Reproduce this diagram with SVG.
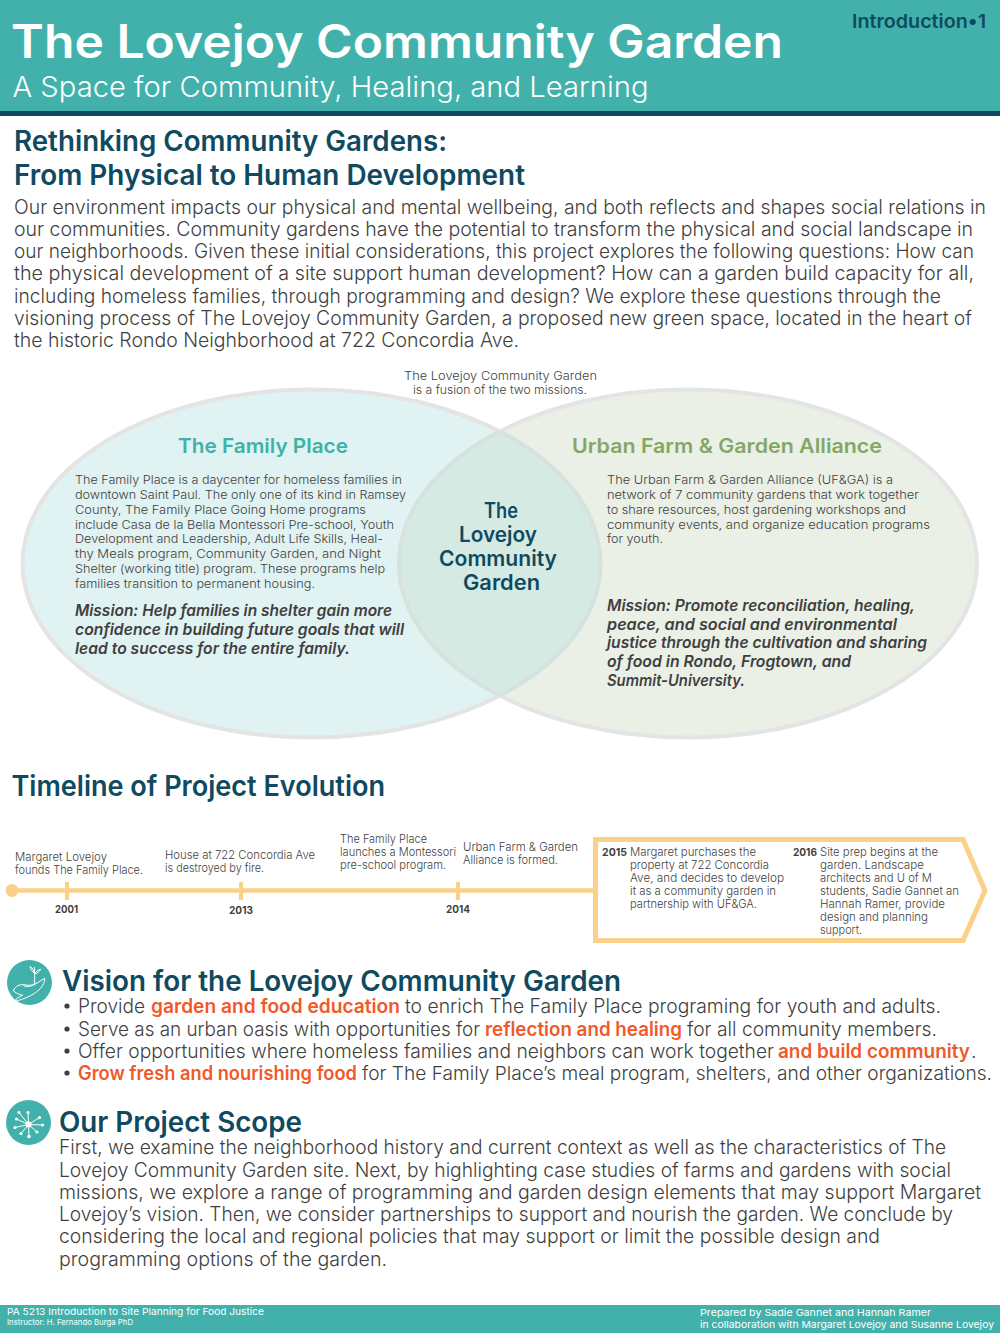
<svg xmlns="http://www.w3.org/2000/svg" width="1000" height="1334" viewBox="0 0 1000 1334">
<style>
text{font-family:"Inter","Lato","Liberation Sans",sans-serif;fill:#3f3f41;font-weight:300;}
.n{fill:#0f4a60;font-weight:600;}
.h{font-size:28px;}
.w{fill:#fff;}
.body{font-size:19.5px;}
.sm{font-size:12px;}
.mis{font-size:16px;font-weight:600;font-style:italic;}
.ctr{font-size:21px;}
.yr{font-size:10.5px;font-weight:700;}
.o{fill:#f1592a;font-weight:600;}
.tl{fill:none;stroke:#fbd088;}
.ic{fill:#42b1ab;}
.il{fill:none;stroke:#fff;stroke-width:3;stroke-linecap:round;stroke-linejoin:round;}
.vs{fill:none;stroke:#e4e4e4;stroke-width:4;}
.vi{fill:none;stroke:#d6e2de;stroke-width:4;}
</style>
<defs>
<clipPath id="lc"><ellipse cx="311.5" cy="563.5" rx="289" ry="174"/></clipPath>
<clipPath id="rc"><ellipse cx="688" cy="563.5" rx="289" ry="174"/></clipPath>
</defs>

<g id="header">
<rect x="0" y="0" width="1000" height="111" fill="#42b1ab"/>
<rect x="0" y="111" width="1000" height="5" fill="#0f4a60"/>
<text class="w" x="11" y="58" font-size="46" style="font-weight:600" textLength="772" lengthAdjust="spacingAndGlyphs">The Lovejoy Community Garden</text>
<text class="w" x="12.5" y="97" font-size="28" textLength="636" lengthAdjust="spacingAndGlyphs">A Space for Community, Healing, and Learning</text>
<text class="n" x="852" y="28" font-size="19" textLength="134" lengthAdjust="spacingAndGlyphs">Introduction•1</text>
</g>

<g id="intro">
<text class="n h" x="14" y="151" textLength="433" lengthAdjust="spacingAndGlyphs">Rethinking Community Gardens:</text>
<text class="n h" x="14" y="185" textLength="511" lengthAdjust="spacingAndGlyphs">From Physical to Human Development</text>
<text class="body" x="14" y="214" textLength="972" lengthAdjust="spacingAndGlyphs">Our environment impacts our physical and mental wellbeing, and both reflects and shapes social relations in</text>
<text class="body" x="14" y="236" textLength="959" lengthAdjust="spacingAndGlyphs">our communities. Community gardens have the potential to transform the physical and social landscape in</text>
<text class="body" x="14" y="258" textLength="960" lengthAdjust="spacingAndGlyphs">our neighborhoods. Given these initial considerations, this project explores the following questions: How can</text>
<text class="body" x="14" y="280" textLength="960" lengthAdjust="spacingAndGlyphs">the physical development of a site support human development? How can a garden build capacity for all,</text>
<text class="body" x="14" y="303" textLength="927" lengthAdjust="spacingAndGlyphs">including homeless families, through programming and design? We explore these questions through the</text>
<text class="body" x="14" y="325" textLength="958" lengthAdjust="spacingAndGlyphs">visioning process of The Lovejoy Community Garden, a proposed new green space, located in the heart of</text>
<text class="body" x="14" y="347" textLength="505" lengthAdjust="spacingAndGlyphs">the historic Rondo Neighborhood at 722 Concordia Ave.</text>
</g>

<g id="venn-shapes">
<ellipse cx="311.5" cy="563.5" rx="289" ry="174" fill="#e0f2f1"/>
<ellipse cx="688" cy="563.5" rx="289" ry="174" fill="#eaf0e6"/>
<ellipse cx="688" cy="563.5" rx="289" ry="174" fill="#d6eae4" clip-path="url(#lc)"/>
<ellipse class="vs" cx="311.5" cy="563.5" rx="289" ry="174"/>
<ellipse class="vs" cx="688" cy="563.5" rx="289" ry="174"/>
<ellipse class="vi" cx="688" cy="563.5" rx="289" ry="174" clip-path="url(#lc)"/>
<ellipse class="vi" cx="311.5" cy="563.5" rx="289" ry="174" clip-path="url(#rc)"/>
</g>

<g id="venn-note">
<text class="sm" x="404" y="380" textLength="193" lengthAdjust="spacingAndGlyphs">The Lovejoy Community Garden</text>
<text class="sm" x="413" y="394" textLength="174" lengthAdjust="spacingAndGlyphs">is a fusion of the two missions.</text>
</g>

<g id="family-place">
<text x="178" y="453" font-size="20" style="fill:#3fb1a9;font-weight:600" textLength="170" lengthAdjust="spacingAndGlyphs">The Family Place</text>
<text class="sm" x="75" y="484" textLength="327" lengthAdjust="spacingAndGlyphs">The Family Place is a daycenter for homeless families in</text>
<text class="sm" x="75" y="499" textLength="331" lengthAdjust="spacingAndGlyphs">downtown Saint Paul. The only one of its kind in Ramsey</text>
<text class="sm" x="75" y="514" textLength="291" lengthAdjust="spacingAndGlyphs">County, The Family Place Going Home programs</text>
<text class="sm" x="75" y="529" textLength="319" lengthAdjust="spacingAndGlyphs">include Casa de la Bella Montessori Pre-school, Youth</text>
<text class="sm" x="75" y="543" textLength="308" lengthAdjust="spacingAndGlyphs">Development and Leadership, Adult Life Skills, Heal-</text>
<text class="sm" x="75" y="558" textLength="306" lengthAdjust="spacingAndGlyphs">thy Meals program, Community Garden, and Night</text>
<text class="sm" x="75" y="573" textLength="310" lengthAdjust="spacingAndGlyphs">Shelter (working title) program. These programs help</text>
<text class="sm" x="75" y="588" textLength="240" lengthAdjust="spacingAndGlyphs">families transition to permanent housing.</text>
<text class="mis" x="75" y="616" textLength="317" lengthAdjust="spacingAndGlyphs">Mission: Help families in shelter gain more</text>
<text class="mis" x="75" y="635" textLength="329" lengthAdjust="spacingAndGlyphs">confidence in building future goals that will</text>
<text class="mis" x="75" y="654" textLength="275" lengthAdjust="spacingAndGlyphs">lead to success for the entire family.</text>
</g>

<g id="urban-farm">
<text x="572" y="453" font-size="20" style="fill:#85a765;font-weight:600" textLength="310" lengthAdjust="spacingAndGlyphs">Urban Farm &amp; Garden Alliance</text>
<text class="sm" x="607" y="484" textLength="286" lengthAdjust="spacingAndGlyphs">The Urban Farm &amp; Garden Alliance (UF&amp;GA) is a</text>
<text class="sm" x="607" y="499" textLength="312" lengthAdjust="spacingAndGlyphs">network of 7 community gardens that work together</text>
<text class="sm" x="607" y="514" textLength="299" lengthAdjust="spacingAndGlyphs">to share resources, host gardening workshops and</text>
<text class="sm" x="607" y="529" textLength="323" lengthAdjust="spacingAndGlyphs">community events, and organize education programs</text>
<text class="sm" x="607" y="543" textLength="56" lengthAdjust="spacingAndGlyphs">for youth.</text>
<text class="mis" x="607" y="611" textLength="308" lengthAdjust="spacingAndGlyphs">Mission: Promote reconciliation, healing,</text>
<text class="mis" x="607" y="630" textLength="290" lengthAdjust="spacingAndGlyphs">peace, and social and environmental</text>
<text class="mis" x="607" y="648" textLength="320" lengthAdjust="spacingAndGlyphs">justice through the cultivation and sharing</text>
<text class="mis" x="607" y="667" textLength="244" lengthAdjust="spacingAndGlyphs">of food in Rondo, Frogtown, and</text>
<text class="mis" x="607" y="686" textLength="138" lengthAdjust="spacingAndGlyphs">Summit-University.</text>
</g>

<g id="fusion">
<text class="n ctr" x="484" y="518" textLength="34" lengthAdjust="spacingAndGlyphs">The</text>
<text class="n ctr" x="459" y="542" textLength="78" lengthAdjust="spacingAndGlyphs">Lovejoy</text>
<text class="n ctr" x="439" y="566" textLength="118" lengthAdjust="spacingAndGlyphs">Community</text>
<text class="n ctr" x="463" y="590" textLength="77" lengthAdjust="spacingAndGlyphs">Garden</text>
</g>

<g id="timeline">
<text class="n h" x="11.5" y="796" textLength="373.5" lengthAdjust="spacingAndGlyphs">Timeline of Project Evolution</text>
<circle cx="12" cy="890.5" r="6.5" fill="#fbd088"/>
<path class="tl" stroke-width="4.5" d="M12 890.5H594"/>
<path class="tl" stroke-width="4" d="M67 882V900M241 882V900M458 882V900"/>
<path class="tl" stroke-width="5" d="M595.5 839.5H963L985 890.5L963 940.5H595.5Z"/>
<text class="yr" x="55" y="913" textLength="23" lengthAdjust="spacingAndGlyphs">2001</text>
<text class="yr" x="229" y="914" textLength="24" lengthAdjust="spacingAndGlyphs">2013</text>
<text class="yr" x="446" y="913" textLength="24" lengthAdjust="spacingAndGlyphs">2014</text>
<text class="sm" x="15" y="861" textLength="92" lengthAdjust="spacingAndGlyphs">Margaret Lovejoy</text>
<text class="sm" x="15" y="874" textLength="128" lengthAdjust="spacingAndGlyphs">founds The Family Place.</text>
<text class="sm" x="165" y="859" textLength="150" lengthAdjust="spacingAndGlyphs">House at 722 Concordia Ave</text>
<text class="sm" x="165" y="872" textLength="99" lengthAdjust="spacingAndGlyphs">is destroyed by fire.</text>
<text class="sm" x="340" y="843" textLength="87" lengthAdjust="spacingAndGlyphs">The Family Place</text>
<text class="sm" x="340" y="856" textLength="116" lengthAdjust="spacingAndGlyphs">launches a Montessori</text>
<text class="sm" x="340" y="869" textLength="106" lengthAdjust="spacingAndGlyphs">pre-school program.</text>
<text class="sm" x="463" y="851" textLength="115" lengthAdjust="spacingAndGlyphs">Urban Farm &amp; Garden</text>
<text class="sm" x="463" y="864" textLength="95" lengthAdjust="spacingAndGlyphs">Alliance is formed.</text>
<text class="yr" x="602" y="856" textLength="25" lengthAdjust="spacingAndGlyphs">2015</text>
<text class="sm" x="630" y="856" textLength="126" lengthAdjust="spacingAndGlyphs">Margaret purchases the</text>
<text class="sm" x="630" y="869" textLength="139" lengthAdjust="spacingAndGlyphs">property at 722 Concordia</text>
<text class="sm" x="630" y="882" textLength="154" lengthAdjust="spacingAndGlyphs">Ave, and decides to develop</text>
<text class="sm" x="630" y="895" textLength="146" lengthAdjust="spacingAndGlyphs">it as a community garden in</text>
<text class="sm" x="630" y="908" textLength="127" lengthAdjust="spacingAndGlyphs">partnership with UF&amp;GA.</text>
<text class="yr" x="793" y="856" textLength="24" lengthAdjust="spacingAndGlyphs">2016</text>
<text class="sm" x="820" y="856" textLength="118" lengthAdjust="spacingAndGlyphs">Site prep begins at the</text>
<text class="sm" x="820" y="869" textLength="104" lengthAdjust="spacingAndGlyphs">garden. Landscape</text>
<text class="sm" x="820" y="882" textLength="112" lengthAdjust="spacingAndGlyphs">architects and U of M</text>
<text class="sm" x="820" y="895" textLength="139" lengthAdjust="spacingAndGlyphs">students, Sadie Gannet an</text>
<text class="sm" x="820" y="908" textLength="125" lengthAdjust="spacingAndGlyphs">Hannah Ramer, provide</text>
<text class="sm" x="820" y="921" textLength="108" lengthAdjust="spacingAndGlyphs">design and planning</text>
<text class="sm" x="820" y="934" textLength="42" lengthAdjust="spacingAndGlyphs">support.</text>
</g>

<g id="vision-icon">
<circle class="ic" cx="29.5" cy="982.5" r="22.5"/>
<g class="il" transform="scale(.3333) translate(0 2880)">
<path d="M40 92C46 78 60 72 75 75C85 77 95 76 103 74C112 70 122 62 134 55C135 68 126 84 112 94C96 106 76 117 42 125C48 116 60 110 68 106C56 104 46 99 40 92Z"/>
<path d="M72 78C84 82 96 80 108 70M103 72C105 55 104 40 103 22M103 40C96 34 92 28 90 20C97 24 102 30 103 40ZM104 42C108 34 113 30 122 28C118 36 112 40 104 42Z"/>
</g>
</g>

<g id="vision">
<text class="n h" x="62" y="991" textLength="559" lengthAdjust="spacingAndGlyphs">Vision for the Lovejoy Community Garden</text>
<circle cx="67" cy="1006" r="2.6" fill="#3f3f41"/><circle cx="67" cy="1029" r="2.6" fill="#3f3f41"/><circle cx="67" cy="1051" r="2.6" fill="#3f3f41"/><circle cx="67" cy="1073" r="2.6" fill="#3f3f41"/>
<text class="body" x="78" y="1013" textLength="67" lengthAdjust="spacingAndGlyphs">Provide</text>
<text class="body o" x="151" y="1013" textLength="249" lengthAdjust="spacingAndGlyphs">garden and food education</text>
<text class="body" x="405" y="1013" textLength="536" lengthAdjust="spacingAndGlyphs">to enrich The Family Place programing for youth and adults.</text>
<text class="body" x="78" y="1036" textLength="402" lengthAdjust="spacingAndGlyphs">Serve as an urban oasis with opportunities for</text>
<text class="body o" x="485" y="1036" textLength="197" lengthAdjust="spacingAndGlyphs">reflection and healing</text>
<text class="body" x="687" y="1036" textLength="250" lengthAdjust="spacingAndGlyphs">for all community members.</text>
<text class="body" x="78" y="1058" textLength="696" lengthAdjust="spacingAndGlyphs">Offer opportunities where homeless families and neighbors can work together</text>
<text class="body o" x="778" y="1058" textLength="192" lengthAdjust="spacingAndGlyphs">and build community</text>
<text class="body" x="971" y="1058">.</text>
<text class="body o" x="78" y="1080" textLength="279" lengthAdjust="spacingAndGlyphs">Grow fresh and nourishing food</text>
<text class="body" x="362" y="1080" font-size="18.5" style="font-size:18.5px" textLength="630" lengthAdjust="spacingAndGlyphs">for The Family Place’s meal program, shelters, and other organizations.</text>
</g>

<g id="scope-icon">
<circle class="ic" cx="28.5" cy="1122.5" r="22.5"/>
<g stroke="#fff" stroke-width="1" fill="#fff">
<path d="M28.5 1124.5L16.5 1119M28.5 1124.5L19 1112.5M28.5 1124.5L28 1112.5M28.5 1124.5L39.5 1117.5M28.5 1124.5L42.5 1125M28.5 1124.5L37 1132M28.5 1124.5L29 1136.5M28.5 1124.5L21 1133.5M28.5 1124.5L15 1127.5"/>
<circle cx="28.5" cy="1124.5" r="3" stroke="none"/>
<circle cx="16.5" cy="1119" r="1.6" stroke="none"/><circle cx="19" cy="1112.5" r="1.6" stroke="none"/><circle cx="28" cy="1112.5" r="1.6" stroke="none"/><circle cx="39.5" cy="1117.5" r="1.6" stroke="none"/><circle cx="42.5" cy="1125" r="1.6" stroke="none"/><circle cx="37" cy="1132" r="1.6" stroke="none"/><circle cx="29" cy="1136.5" r="1.8" stroke="none"/><circle cx="21" cy="1133.5" r="1.6" stroke="none"/><circle cx="15" cy="1127.5" r="1.6" stroke="none"/>
</g>
</g>

<g id="scope">
<text class="n h" x="59" y="1132" textLength="243" lengthAdjust="spacingAndGlyphs">Our Project Scope</text>
<text class="body" x="59" y="1154" textLength="887" lengthAdjust="spacingAndGlyphs">First, we examine the neighborhood history and current context as well as the characteristics of The</text>
<text class="body" x="59" y="1177" textLength="892" lengthAdjust="spacingAndGlyphs">Lovejoy Community Garden site. Next, by highlighting case studies of farms and gardens with social</text>
<text class="body" x="59" y="1199" textLength="922" lengthAdjust="spacingAndGlyphs">missions, we explore a range of programming and garden design elements that may support Margaret</text>
<text class="body" x="59" y="1221" textLength="894" lengthAdjust="spacingAndGlyphs">Lovejoy’s vision. Then, we consider partnerships to support and nourish the garden. We conclude by</text>
<text class="body" x="59" y="1243" textLength="821" lengthAdjust="spacingAndGlyphs">considering the local and regional policies that may support or limit the possible design and</text>
<text class="body" x="59" y="1266" textLength="328" lengthAdjust="spacingAndGlyphs">programming options of the garden.</text>
</g>

<g id="footer">
<rect x="0" y="1305" width="1000" height="28" fill="#42b1ab"/>
<text class="w" x="7" y="1315" font-size="9.5" style="font-weight:400" textLength="257" lengthAdjust="spacingAndGlyphs">PA 5213 Introduction to Site Planning for Food Justice</text>
<text class="w" x="7" y="1325" font-size="8" style="font-weight:400" textLength="126" lengthAdjust="spacingAndGlyphs">Instructor: H. Fernando Burga PhD</text>
<text class="w" x="700" y="1316" font-size="9.5" style="font-weight:400" textLength="231" lengthAdjust="spacingAndGlyphs">Prepared by Sadie Gannet and Hannah Ramer</text>
<text class="w" x="700" y="1328" font-size="9.5" style="font-weight:400" textLength="294" lengthAdjust="spacingAndGlyphs">in collaboration with Margaret Lovejoy and Susanne Lovejoy</text>
</g>
</svg>
